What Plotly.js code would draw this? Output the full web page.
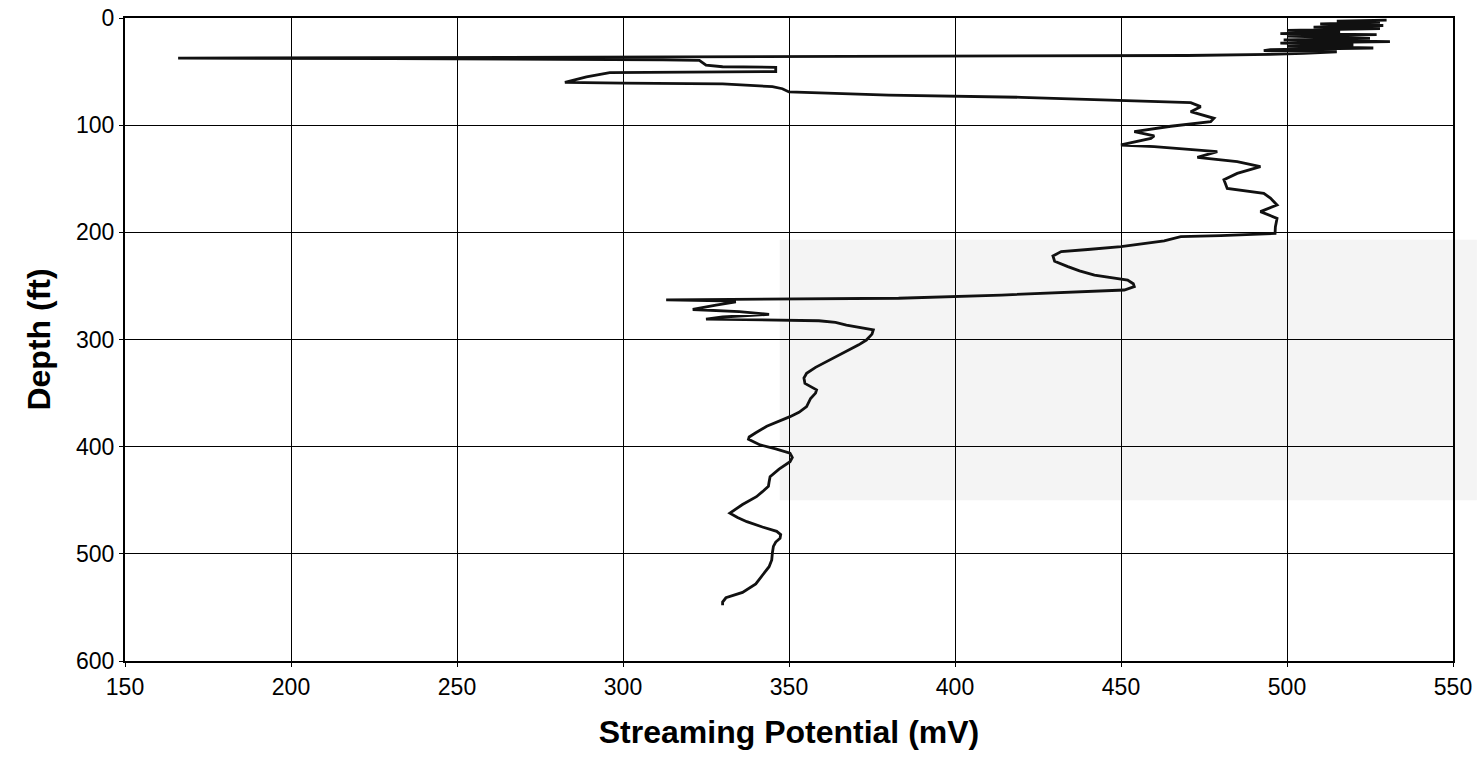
<!DOCTYPE html>
<html>
<head>
<meta charset="utf-8">
<script src="https://cdn.plot.ly/plotly-3.0.1.min.js"></script>
<style>
html,body{margin:0;padding:0;background:#fff;}
#chart{width:1477px;height:765px;}
</style>
</head>
<body>
<div id="chart"></div>
<script>
// Depth (ft) and streaming potential (mV)
const depthFt = [
  2, 3, 4, 5.5, 7, 8.5, 10, 11.5, 13, 14.5, 15.5, 17, 19, 20.5, 22, 23.5, 25, 26.5, 28, 29.5, 30.5, 31.5, 33, 34,
  35, 36, 37, 37.5, 38, 38.5, 39, 39.5, 44, 45.5, 46, 50, 50.7, 51, 55, 60, 60.7, 61.5, 64, 66, 69,
  72, 74, 76.5, 78, 79, 82.7, 87.4, 93.6, 96.7, 101, 106, 110, 112.3, 118.5, 120, 124.7, 130, 134, 138.7,
  145, 151, 159, 163.6, 168, 174.5, 180.7, 187, 195, 201, 203, 204, 208, 213.4, 216, 218, 222, 227, 232, 236, 240,
  244.5, 248, 250.7, 253.8, 256, 258.5, 261.5, 263, 264, 265, 268, 272, 274, 276.5, 279, 281, 282.5, 284, 286.5,
  289, 291, 295, 300.5, 305, 310, 319, 326, 331.5, 336, 341, 345, 347, 350, 355, 362.7, 368, 372, 377, 381, 387, 391,
  393, 396, 398.4, 402, 406, 410, 414, 421, 428, 433, 437, 442, 446.7, 454, 462, 466, 470, 475, 479, 482, 485.5,
  489, 493, 499, 505.7, 512, 520, 528, 536, 541, 545, 548
];
const potentialMv = [
  530, 515, 528, 510, 529, 508, 528, 500, 516, 498, 527, 500, 525, 499, 531, 498, 520, 500, 526, 495, 493, 515, 505, 495,
  470, 350, 250, 166, 230, 300, 312, 323, 325, 330, 346, 346, 320, 296, 289, 282.5, 300, 330, 345, 348, 350,
  380, 420, 444, 465, 471, 474, 471, 478, 477, 465, 454, 460, 459, 450, 460, 479, 473, 485, 492,
  485, 481, 482, 493, 495, 497, 492, 497, 496.5, 496.4, 480, 468, 463, 450, 440, 432, 429.5, 430, 434, 437.5, 442,
  452, 453.7, 454, 451, 435, 414, 383, 313, 330, 334, 328, 321, 335, 344, 330, 325, 359, 364, 367.3,
  372, 375.4, 375, 373.3, 371, 368, 362.3, 358, 355.3, 354.5, 354.8, 357, 358.3, 358, 356.5, 355.3, 353, 350.3, 346.5, 343.3, 340, 338,
  337.8, 339.5, 341.3, 346, 350.3, 351, 350.3, 347, 344.3, 344, 343.8, 342, 340.2, 336, 332.2, 334.5, 337.3, 342, 346.3, 347.5, 347.3,
  346, 345.3, 345, 344.8, 344, 342, 340, 336, 331, 330, 330
];
const xTitle = 'Streaming Potential (mV)';
const yTitle = 'Depth (ft)';

const trace = {
  x: potentialMv,
  y: depthFt,
  type: 'scatter',
  mode: 'lines',
  line: {color: '#111', width: 2.8},
  hoverinfo: 'skip'
};

const layout = {
  width: 1477,
  height: 765,
  margin: {l: 125, r: 24, t: 18, b: 104},
  paper_bgcolor: '#fff',
  plot_bgcolor: '#fff',
  showlegend: false,
  font: {family: 'Liberation Sans, Arial, sans-serif', color: '#000'},
  xaxis: {
    range: [150, 550],
    dtick: 50,
    tick0: 150,
    showgrid: true,
    gridcolor: '#000',
    gridwidth: 1,
    zeroline: false,
    showline: true,
    linecolor: '#000',
    linewidth: 2,
    mirror: true,
    ticks: 'outside',
    ticklen: 4,
    tickcolor: '#000',
    tickfont: {size: 23, color: '#000'},
    title: {text: '<b>' + xTitle + '</b>', font: {size: 32, color: '#000'}, standoff: 22}
  },
  yaxis: {
    range: [600, 0],
    dtick: 100,
    tick0: 0,
    showgrid: true,
    gridcolor: '#000',
    gridwidth: 1,
    zeroline: false,
    showline: true,
    linecolor: '#000',
    linewidth: 2,
    mirror: true,
    ticks: 'outside',
    ticklen: 4,
    tickcolor: '#000',
    tickfont: {size: 23, color: '#000'},
    title: {text: '<b>' + yTitle + '</b>', font: {size: 32, color: '#000'}, standoff: 16}
  },
  shapes: [{
    type: 'rect', xref: 'paper', yref: 'paper',
    x0: 0.493, x1: 1.018, y0: 0.25, y1: 0.655,
    fillcolor: '#f4f4f4', line: {width: 0}, layer: 'below'
  }]
};

Plotly.newPlot('chart', [trace], layout, {staticPlot: true, displayModeBar: false});
</script>
</body>
</html>
